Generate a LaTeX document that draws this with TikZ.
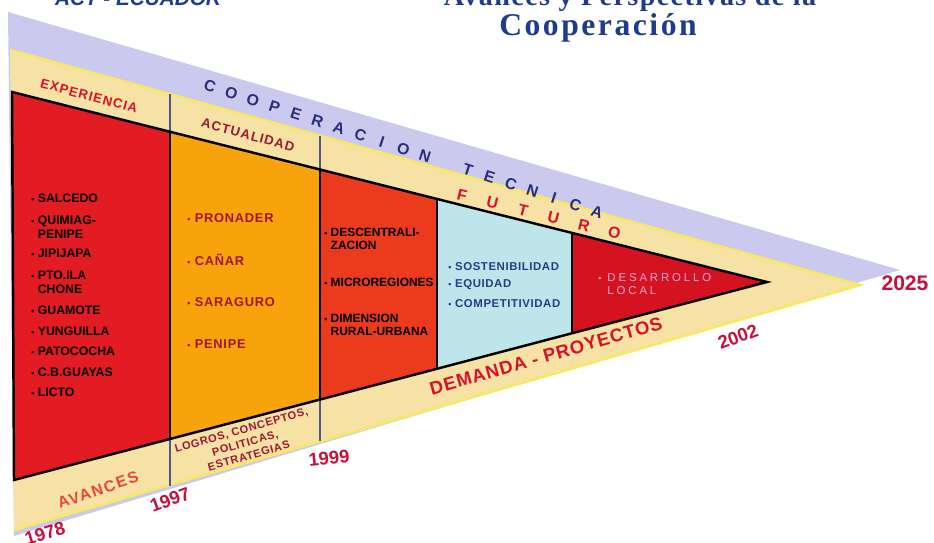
\documentclass[tikz,border=0pt]{standalone}
\usepackage{fontspec}
\setmainfont{Liberation Serif}
\setsansfont{Liberation Sans}
\usepackage{tikz}
\usetikzlibrary{positioning}

\definecolor{bandlav}{HTML}{CBC9EE}
\definecolor{bandyel}{HTML}{F7E2A6}
\definecolor{edgeyel}{HTML}{F8E868}
\definecolor{pastred}{HTML}{E31B23}
\definecolor{nowora}{HTML}{F8A20C}
\definecolor{midred}{HTML}{EC3A1C}
\definecolor{futcyan}{HTML}{BEE6EA}
\definecolor{tipred}{HTML}{D5121F}
\definecolor{tickblue}{HTML}{4A5A8A}
\definecolor{navy}{HTML}{2A2E7A}
\definecolor{yearred}{HTML}{C8103A}
\definecolor{darkred}{HTML}{A01830}
\definecolor{brightred}{HTML}{D8102A}
\definecolor{softred}{HTML}{E8483A}
\definecolor{titleblue}{HTML}{1F3C8C}
\definecolor{actblue}{HTML}{1A3A9A}
\definecolor{listblue}{HTML}{2A3A8A}
\definecolor{pinktext}{HTML}{E8A8D8}

\newcommand{\itembul}{{\fontsize{5}{5}\selectfont\textbullet}\ }
\newcommand{\spaced}[1]{\addfontfeatures{LetterSpace=#1}}

\begin{document}
\begin{tikzpicture}[x=0.02cm, y=-0.02cm]
			\tikzstyle{Txt}		= [inner sep=0pt, font=\sffamily\bfseries]
			\tikzstyle{Item}	= [Txt, anchor=west, align=left, font=\sffamily\bfseries\fontsize{7}{8}\selectfont]
			\tikzstyle{Year}	= [Txt, text=yearred, font=\sffamily\bfseries\fontsize{10.5}{12}\selectfont]
			\tikzstyle{Letter}	= [Txt, font=\sffamily\bfseries\fontsize{9}{10}\selectfont]
			\tikzstyle{Title}	= [anchor=base, inner sep=0pt, text=titleblue]
			\tikzstyle{Block}	= [draw=black, line width=1.4pt, line join=miter]
			\tikzstyle{Tick}	= [tickblue, line width=1pt]
			
			\useasboundingbox (0,0) rectangle (934,543);
			\clip (0,0) rectangle (934,543);
			\fill [white] (0,0) rectangle (934,543);
			
			\coordinate (l1) at (8,12);
			\coordinate (l2) at (900,270);
			\coordinate (l3) at (14,536);
			\coordinate (y1) at (10,50);
			\coordinate (y2) at (860,285);
			\coordinate (y3) at (14,530);
			\coordinate (a) at (12,92);
			\coordinate (tip) at (767,282);
			\coordinate (b) at (14,480);
			\coordinate (t1) at (170,131.8);
			\coordinate (t2) at (320,169.5);
			\coordinate (t3) at (437,199);
			\coordinate (t4) at (572,233);
			\coordinate (b1) at (170,439);
			\coordinate (b2) at (320,399.5);
			\coordinate (b3) at (437,368.8);
			\coordinate (b4) at (572,333.2);
			
			\fill [bandlav] (l1) -- (l2) -- (l3) -- cycle;
			\fill [bandyel] (y1) -- (y2) -- (y3) -- cycle;
			\draw [edgeyel, line width=1.5pt] (y1) -- (y2) -- (y3);
			
			\draw [Tick] (170,94) -- (170,486);
			\draw [Tick] (320,136) -- (320,441);
			
			\fill [pastred] (a) -- (t1) -- (b1) -- (b) -- cycle;
			\fill [nowora] (t1) -- (t2) -- (b2) -- (b1) -- cycle;
			\fill [midred] (t2) -- (t3) -- (b3) -- (b2) -- cycle;
			\fill [futcyan] (t3) -- (t4) -- (b4) -- (b3) -- cycle;
			\fill [tipred] (t4) -- (tip) -- (b4) -- cycle;
			\draw [Block] (a) -- (tip) -- (b) -- cycle;
			\foreach \i in {1,...,4}
				\draw [Block] (t\i) -- (b\i);
			
			\node (act) at (138,6) [Title, text=actblue, font=\sffamily\bfseries\itshape\fontsize{11.8}{13}\selectfont] {ACT - ECUADOR};
			\node (title1) at (630,6) [Title, font=\rmfamily\bfseries\fontsize{16}{18}\selectfont\spaced{5}] {Avances y Perspectivas de la};
			\node (title2) at (598,36) [Title, font=\rmfamily\bfseries\fontsize{18}{20}\selectfont\spaced{8}] {Cooperación};
			
			\foreach \i/\ch in {0/C,1/O,2/O,3/P,4/E,5/R,6/A,7/C,8/I,9/O,10/N,12/T,13/E,14/C,15/N,16/I,17/C,18/A}
				\node (coop\i) at ({210+\i*21.5},{86+\i*7}) [Letter, text=navy, rotate=-18] {\ch};
			\foreach \i/\ch in {0/F,1/U,2/T,3/U,4/R,5/O}
				\node (fut\i) at ({462+\i*30.5},{195+\i*7.6}) [Letter, text=brightred, rotate=-14] {\ch};
			
			\node (exper) at (89,96) [Txt, rotate=-15, text=brightred, font=\sffamily\bfseries\fontsize{7.5}{8}\selectfont\spaced{8}] {EXPERIENCIA};
			\node (actual) at (248,135) [Txt, rotate=-15, text=darkred, font=\sffamily\bfseries\fontsize{7.5}{8}\selectfont\spaced{8}] {ACTUALIDAD};
			\node (avances) at (98,490) [Txt, rotate=19, text=softred, font=\sffamily\bfseries\fontsize{9}{10}\selectfont\spaced{10}] {AVANCES};
			\node (logros) at (245,443) [Txt, rotate=16, align=center, text=darkred, font=\sffamily\bfseries\fontsize{6.3}{7.6}\selectfont\spaced{6}] {LOGROS, CONCEPTOS,\\POLITICAS,\\ESTRATEGIAS};
			\node (demanda) at (546,356) [Txt, rotate=16, text=brightred, font=\sffamily\bfseries\fontsize{10.5}{12}\selectfont\spaced{5}] {DEMANDA - PROYECTOS};
			
			\node (y1978) at (45,533) [Year, rotate=17] {1978};
			\node (y1997) at (170,500) [Year, rotate=20] {1997};
			\node (y1999) at (329,458) [Year, rotate=6] {1999};
			\node (y2002) at (738,337) [Year, rotate=20] {2002};
			\node (y2025) at (905,283) [Year, font=\sffamily\bfseries\fontsize{12}{14}\selectfont] {2025};
			
			\foreach \y/\txt [count=\i] in {198/SALCEDO, 227/{QUIMIAG-\\\phantom{\itembul}PENIPE}, 253/JIPIJAPA, 282/{PTO.ILA\\\phantom{\itembul}CHONE}, 310/GUAMOTE, 331/YUNGUILLA, 351/PATOCOCHA, 372/C.B.GUAYAS, 392/LICTO}
				\node (past\i) at (31,\y) [Item, text=black] {\itembul\txt};
			\foreach \y/\txt [count=\i] in {218/PRONADER, 260/CAÑAR, 302/SARAGURO, 344/PENIPE}
				\node (now\i) at (187,\y) [Item, text=darkred, font=\sffamily\bfseries\fontsize{7.3}{8}\selectfont\spaced{6}] {\itembul\txt};
			\foreach \y/\txt [count=\i] in {239/{DESCENTRALI-\\\phantom{\itembul}ZACION}, 282/MICROREGIONES, 325/{DIMENSION\\\phantom{\itembul}RURAL-URBANA}}
				\node (mid\i) at (324,\y) [Item, text=black, font=\sffamily\bfseries\fontsize{6.8}{7.8}\selectfont] {\itembul\txt};
			\foreach \y/\txt [count=\i] in {267/SOSTENIBILIDAD, 285/EQUIDAD, 304/COMPETITIVIDAD}
				\node (fut\i) at (448,\y) [Item, text=listblue, font=\sffamily\bfseries\fontsize{6.5}{7.5}\selectfont\spaced{5}] {\itembul\txt};
			\node (local) at (598,284) [Item, text=pinktext, font=\sffamily\fontsize{6.5}{7.5}\selectfont\spaced{25}] {\itembul DESARROLLO\\\phantom{\itembul}LOCAL};
			
		\end{tikzpicture}
\end{document}
